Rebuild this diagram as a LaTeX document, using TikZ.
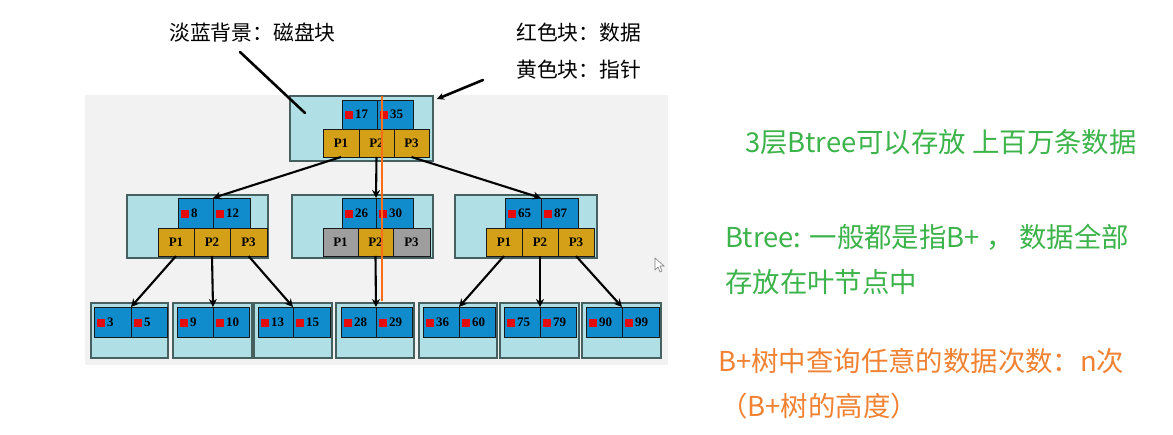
\documentclass[tikz,border=0pt]{standalone}
\usepackage{fontspec}
\setmainfont{Liberation Serif}
\newfontfamily\cjk{Noto Sans CJK SC}
\usetikzlibrary{arrows.meta}
\definecolor{diskbg}{RGB}{176,224,230}
\definecolor{datablue}{RGB}{16,140,205}
\definecolor{ptryel}{RGB}{212,160,23}
\definecolor{ptrgray}{RGB}{158,158,158}
\definecolor{boxline}{RGB}{70,95,95}
\definecolor{panel}{RGB}{242,242,242}
\definecolor{txtgreen}{RGB}{60,180,75}
\definecolor{txtorange}{RGB}{240,130,50}
\definecolor{lineorange}{RGB}{255,110,20}
\definecolor{keyred}{RGB}{230,10,10}
\tikzset{
  disk/.style={draw=boxline, fill=diskbg, line width=1.2pt, inner sep=0pt, outer sep=0pt},
  datacell/.style={draw=black!90, fill=datablue, line width=0.8pt, inner xsep=3pt, inner ysep=0pt, outer sep=0pt, font=\bfseries\fontsize{13}{13}\selectfont, align=left},
  ptrcell/.style={draw=black!90, fill=ptryel, line width=0.8pt, inner sep=0pt, outer sep=0pt, font=\bfseries\fontsize{13}{13}\selectfont},
  grayptr/.style={ptrcell, fill=ptrgray},
  treearrow/.style={line width=2.1pt, -{Stealth[length=8pt,width=8pt]}},
  pointer/.style={line width=2.6pt, line cap=round},
  anno/.style={font=\cjk\fontsize{20.8}{24}\selectfont, inner sep=0pt, anchor=west},
  note/.style={font=\cjk\fontsize{27.4}{30}\selectfont, inner sep=0pt, anchor=west},
}
\newcommand\diskbox[5]{\node[disk, minimum width={#4-#2}, minimum height={#5-#3}] (#1) at ({(#2+#4)/2},{(#3+#5)/2}) {};}
\newcommand\dcell[6]{\pgfmathsetmacro\tw{#4-#2-6}\node[datacell, text width=\tw pt, minimum height={#5-#3}] (#1) at ({(#2+#4)/2},{(#3+#5)/2}) {\textcolor{keyred}{\rule[-0.5pt]{8pt}{8pt}}\,#6};}
\newcommand\pc[7]{\node[#1, minimum width={#5-#3}, minimum height={#6-#4}] (#2) at ({(#3+#5)/2},{(#4+#6)/2}) {#7};}
\begin{document}
\begin{tikzpicture}[x=1pt,y=-1pt]
\useasboundingbox (0,0) rectangle (1173,435);
\fill[white] (0,0) rectangle (1173,435);
\fill[panel] (85,95) rectangle (668,365);

% root
\diskbox{root}{290}{96}{433}{161}
\dcell{rD1}{342}{100}{377}{129}{17}
\dcell{rD2}{377}{100}{413}{129}{35}
\pc{ptrcell}{rP1}{323}{129}{359}{157}{P1}
\pc{ptrcell}{rP2}{359}{129}{394}{157}{P2}
\pc{ptrcell}{rP3}{394}{129}{429}{157}{P3}

% middle left
\diskbox{ml}{127}{195}{268}{258}
\dcell{mlD1}{178}{198}{213}{228}{8}
\dcell{mlD2}{213}{198}{250}{228}{12}
\pc{ptrcell}{mlP1}{158}{228}{194}{256}{P1}
\pc{ptrcell}{mlP2}{194}{228}{230}{256}{P2}
\pc{ptrcell}{mlP3}{230}{228}{267}{256}{P3}

% middle center
\diskbox{mc}{292}{195}{433}{258}
\dcell{mcD1}{342}{198}{376}{228}{26}
\dcell{mcD2}{376}{198}{413}{228}{30}
\pc{grayptr}{mcP1}{323}{228}{358}{256}{P1}
\pc{ptrcell}{mcP2}{358}{228}{393}{256}{P2}
\pc{grayptr}{mcP3}{393}{228}{430}{256}{P3}

% middle right
\diskbox{mr}{455}{195}{597}{258}
\dcell{mrD1}{505}{198}{541}{228}{65}
\dcell{mrD2}{541}{198}{578}{228}{87}
\pc{ptrcell}{mrP1}{486}{228}{522}{256}{P1}
\pc{ptrcell}{mrP2}{522}{228}{558}{256}{P2}
\pc{ptrcell}{mrP3}{558}{228}{594}{256}{P3}

% leaves
\diskbox{l1}{91}{303}{168}{358}
\dcell{l1D1}{94}{307}{131}{337}{3}
\dcell{l1D2}{131}{307}{167}{337}{5}
\diskbox{l2}{173}{303}{252}{358}
\dcell{l2D1}{177}{307}{213}{337}{9}
\dcell{l2D2}{213}{307}{249}{337}{10}
\diskbox{l3}{254}{303}{332}{358}
\dcell{l3D1}{258}{307}{293}{337}{13}
\dcell{l3D2}{293}{307}{330}{337}{15}
\diskbox{l4}{336}{303}{414}{358}
\dcell{l4D1}{341}{307}{376}{337}{28}
\dcell{l4D2}{376}{307}{412}{337}{29}
\diskbox{l5}{419}{303}{497}{358}
\dcell{l5D1}{423}{307}{459}{337}{36}
\dcell{l5D2}{459}{307}{495}{337}{60}
\diskbox{l6}{500}{303}{579}{358}
\dcell{l6D1}{504}{307}{540}{337}{75}
\dcell{l6D2}{540}{307}{576}{337}{79}
\diskbox{l7}{582}{303}{661}{358}
\dcell{l7D1}{586}{307}{622}{337}{90}
\dcell{l7D2}{622}{307}{659}{337}{99}

% orange search path
\coordinate (o1) at (382,96);
\coordinate (o2) at (382,301);
\draw[lineorange, line width=1.3pt] (o1) -- (o2);

% tree arrows
\draw[treearrow] (rP1.south) -- (mlD1.north east);
\draw[treearrow] (rP2.south) -- (mcD1.north east);
\draw[treearrow] (rP3.south) -- (mrD1.north east);
\draw[treearrow] (mlP1.south) -- (l1D1.north east);
\draw[treearrow] (mlP2.south) -- (l2D1.north east);
\draw[treearrow] (mlP3.south) -- (l3D1.north east);
\draw[treearrow] (mcP2.south) -- (l4D1.north east);
\draw[treearrow] (mrP1.south) -- (l5D1.north east);
\draw[treearrow] (mrP2.south) -- (l6D1.north east);
\draw[treearrow] (mrP3.south) -- (l7D1.north east);

% annotations
\node[anno] (a1) at (169,33) {淡蓝背景：磁盘块};
\node[anno] (a2) at (516,33) {红色块：数据};
\node[anno] (a3) at (516,70) {黄色块：指针};
\coordinate (p1s) at (240,52);
\coordinate (p1e) at (305,113);
\draw[pointer] (p1s) -- (p1e);
\coordinate (p2s) at (483,80);
\coordinate (p2e) at (437,99);
\draw[pointer, -{Stealth[length=7pt,width=7pt]}] (p2s) -- (p2e);

% cursor
\draw[gray, line width=0.6pt, fill=white] (655,258) -- (655,270) -- (658,267) -- (660,272) -- (662,271) -- (660,266) -- (664,266) -- cycle;

% notes
\node[note, text=txtgreen] (n1) at (745,142) {3层Btree可以存放 上百万条数据};
\node[note, text=txtgreen] (n2) at (725,237) {Btree: 一般都是指B+ ， 数据全部};
\node[note, text=txtgreen] (n3) at (725,282) {存放在叶节点中};
\node[note, text=txtorange] (n4) at (718,361) {B+树中查询任意的数据次数：n次};
\node[note, text=txtorange] (n5) at (720,406) {（B+树的高度）};
\end{tikzpicture}
\end{document}
